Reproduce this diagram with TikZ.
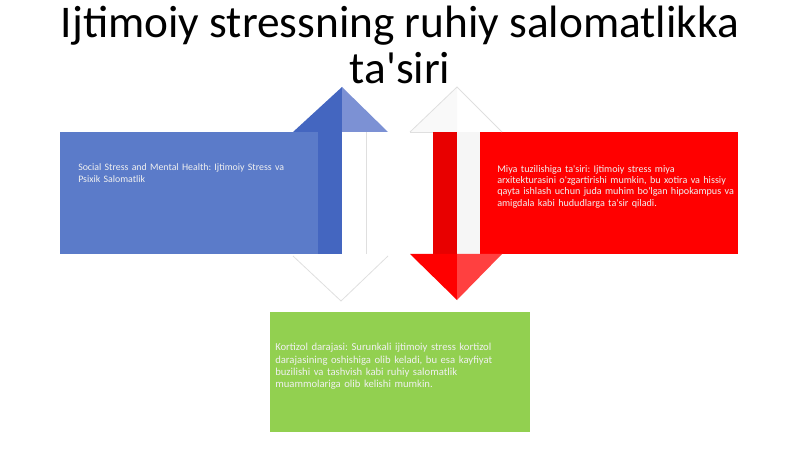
\documentclass[tikz,border=0pt]{standalone}
\usepackage{fontspec}
\setmainfont{Carlito}[Ligatures=TeXOff]
\begin{document}
\frenchspacing
\hyphenpenalty=10000
\exhyphenpenalty=10000
\begin{tikzpicture}[x=0.75pt,y=-0.75pt]

\definecolor{boxblue}{RGB}{91,123,201}
\definecolor{darkblue}{RGB}{68,102,192}
\definecolor{lightblue}{RGB}{124,145,212}
\definecolor{boxred}{RGB}{255,0,0}
\definecolor{darkred}{RGB}{232,0,0}
\definecolor{lightred}{RGB}{255,64,64}
\definecolor{boxgreen}{RGB}{146,208,80}

\tikzset{
  boxtext/.style={anchor=north west,inner sep=0pt,align=left,
    font=\fontsize{8}{9.3}\selectfont,text=white!88!gray},
  ghost/.style={draw=gray!25,line width=0.6pt}
}

\useasboundingbox (0,0) rectangle (800,449);

% kutilar
\fill[color=boxblue]  (60,132) rectangle (318,254);
\fill[color=boxred]   (480,132) rectangle (738,254);
\fill[color=boxgreen] (270,312) rectangle (530,432);

% chap strelka (yuqoriga)
\fill[color=darkblue]  (318,132) rectangle (342,254);
\fill[color=darkblue]  (293,132) -- (342,87) -- (342,132) -- cycle;
\fill[color=lightblue] (342,87) -- (388,132) -- (342,132) -- cycle;
\draw[ghost] (366,132) -- (366,254);
\draw[ghost] (293,256) -- (341,301) -- (388,256);

% o'ng strelka (pastga)
\fill[color=gray!7]   (457,132) rectangle (480,254);
\fill[color=darkred]  (433,132) rectangle (457,254);
\fill[color=boxred]   (410,254) -- (457,300) -- (457,254) -- cycle;
\fill[color=lightred] (457,300) -- (502,254) -- (457,254) -- cycle;
\fill[color=gray!5]   (410,132) -- (457,87) -- (457,132) -- cycle;
\draw[ghost] (410,132) -- (457,87) -- (502,132);
\draw[ghost] (410,132) -- (433,132);

% sarlavha
\node (title) at (400,45) [align=center,font=\fontsize{34}{34.5}\selectfont]
  {Ijtimoiy stressning ruhiy salomatlikka\\ta'siri};

\node[boxtext,text width=215pt*0.75,font=\fontsize{7.4}{9}\selectfont] (blue) at (78,163)
  {Social Stress and Mental Health: Ijtimoiy Stress va Psixik Salomatlik};
\node[boxtext,text width=240pt*0.75,font=\fontsize{7.6}{8.5}\selectfont] (red) at (497,165)
  {Miya tuzilishiga ta'siri: Ijtimoiy stress miya\\
   arxitekturasini o'zgartirishi mumkin, bu xotira va hissiy\\
   qayta ishlash uchun juda muhim bo'lgan hipokampus va\\
   amigdala kabi hududlarga ta'sir qiladi.};
\node[boxtext,text width=236pt*0.75] (green) at (275,343)
  {Kortizol darajasi: Surunkali ijtimoiy stress kortizol darajasining oshishiga olib keladi, bu esa kayfiyat buzilishi va tashvish kabi ruhiy salomatlik muammolariga olib kelishi mumkin.};

\end{tikzpicture}
\end{document}
